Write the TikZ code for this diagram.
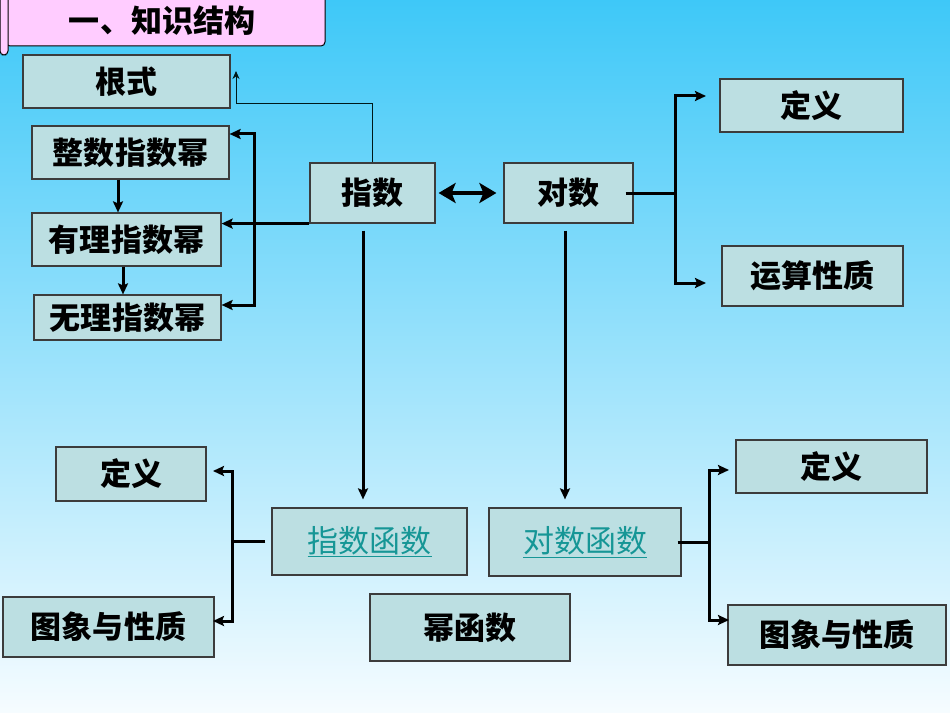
\documentclass[tikz,border=0pt]{standalone}
\usepackage{fontspec}
\setmainfont{Noto Sans CJK SC}
\newfontfamily\cjk{Noto Sans CJK SC}
\usetikzlibrary{arrows.meta,calc}
\definecolor{bgtop}{RGB}{62,200,248}
\definecolor{bgbot}{RGB}{246,252,255}
\definecolor{boxfill}{RGB}{188,223,226}
\definecolor{boxline}{RGB}{60,60,60}
\definecolor{pinkfill}{RGB}{255,204,255}
\definecolor{linktext}{RGB}{22,150,150}
\tikzset{
  box/.style={draw=boxline, line width=1.2bp, fill=boxfill, inner sep=0pt,
    font=\cjk\bfseries\fontsize{31bp}{34bp}\selectfont, text=black},
  linkbox/.style={box, font=\cjk\fontsize{31bp}{34bp}\selectfont, text=linktext},
  thk/.style={line width=3bp, black},
  arr/.style={thk, -{Stealth[length=11bp,width=10bp,inset=2bp]}},
  arrs/.style={thk, {Stealth[length=11bp,width=10bp,inset=2bp]}-{Stealth[length=11bp,width=10bp,inset=2bp]}},
  dbl/.style={line width=4bp, black, {Stealth[length=17bp,width=20bp,inset=4bp]}-{Stealth[length=17bp,width=20bp,inset=4bp]}},
  thinarr/.style={line width=1bp, black!80!teal, -{Stealth[length=8bp,width=7bp]}},
}
\begin{document}
\begin{tikzpicture}[x=1bp,y=-1bp]
\useasboundingbox (0,0) rectangle (950,713);
\shade[top color=bgtop, bottom color=bgbot] (0,0) rectangle (950,713);
% title banner
\draw[line width=1bp, fill=pinkfill, rounded corners=4bp] (6,-5) rectangle (325,46);
\draw[line width=1bp, fill=pinkfill, rounded corners=4bp] (0,-5) rectangle (8,55);
\node[font=\cjk\bfseries\fontsize{31bp}{34bp}\selectfont, inner sep=0pt] (title) at (162,21) {一、知识结构};
% boxes
\node[box, minimum width=207bp, minimum height=53bp] (gs) at (126.5,81.5) {根式};
\node[box, minimum width=197bp, minimum height=53bp] (zs) at (130.5,152.5) {整数指数幂};
\node[box, minimum width=189bp, minimum height=53bp] (yl) at (126.5,239.5) {有理指数幂};
\node[box, minimum width=187bp, minimum height=45bp] (wl) at (127.5,317.5) {无理指数幂};
\node[box, minimum width=125bp, minimum height=60bp] (zhi) at (372.5,193) {指数};
\node[box, minimum width=129bp, minimum height=60bp] (dui) at (568.5,193) {对数};
\node[box, minimum width=183bp, minimum height=53bp] (dy1) at (811.5,105.5) {定义};
\node[box, minimum width=181bp, minimum height=60bp] (ys) at (812.5,276) {运算性质};
\node[box, minimum width=150bp, minimum height=54bp] (dy2) at (131,474) {定义};
\node[box, minimum width=211bp, minimum height=60bp] (tx1) at (108.5,627) {图象与性质};
\node[linkbox, minimum width=195bp, minimum height=67bp] (zsf) at (369.5,541.5) {\underline{指数函数}};
\node[box, minimum width=200bp, minimum height=67bp] (mhs) at (470,627.5) {幂函数};
\node[linkbox, minimum width=192bp, minimum height=68bp] (dsf) at (585,542) {\underline{对数函数}};
\node[box, minimum width=191bp, minimum height=53bp] (dy3) at (831.5,466.5) {定义};
\node[box, minimum width=218bp, minimum height=60bp] (tx2) at (837,635) {图象与性质};
% helper coordinates
\coordinate (gsa) at (236,71);
\coordinate (b1) at (254,134);
\coordinate (b2) at (254,305);
\coordinate (x1) at (118,0);
\coordinate (x2) at (123,0);
\coordinate (r1) at (675,96);
\coordinate (r2) at (675,283);
\coordinate (rt1) at (706,96);
\coordinate (rt2) at (706,283);
\coordinate (vz) at (363,0);
\coordinate (vd) at (565,0);
\coordinate (l1) at (232,471);
\coordinate (l2) at (232,621);
\coordinate (lt1) at (213,471);
\coordinate (lt2) at (213,621);
\coordinate (m1) at (709,470);
\coordinate (m2) at (709,620);
\coordinate (mt1) at (729,470);
\coordinate (mt2) at (729,620);
% connectors
\draw[thinarr] (zhi.north) -- ++(0,-59) -| (gsa);
\draw[arr] (zhi.south west) -- (yl.east |- zhi.south west);
\draw[arrs] (b1 -| zs.east) -- (b1) -- (b2) -- (b2 -| wl.east);
\draw[arr] (x1 |- zs.south) -- (x1 |- yl.north);
\draw[arr] (x2 |- yl.south) -- (x2 |- wl.north);
\draw[dbl, shorten <=3bp, shorten >=7bp] (zhi.east) -- (dui.east -| dui.west);
\draw[thk] ([xshift=-8bp]dui.east) -- (r1 |- dui.east);
\draw[arrs] (rt1) -- (r1) -- (r2) -- (rt2);
\draw[arr, shorten <=7bp, shorten >=8bp] (vz |- zhi.south) -- (vz |- zsf.north);
\draw[arr, shorten <=7bp, shorten >=8bp] (vd |- dui.south) -- (vd |- dsf.north);
\draw[thk] ([xshift=-6bp]zsf.west) -- (l1 |- zsf.west);
\draw[arrs] (lt1) -- (l1) -- (l2) -- (lt2);
\draw[thk] ([xshift=-4bp]dsf.east) -- (m1 |- dsf.east);
\draw[arrs] (mt1) -- (m1) -- (m2) -- (mt2);
\end{tikzpicture}
\end{document}
